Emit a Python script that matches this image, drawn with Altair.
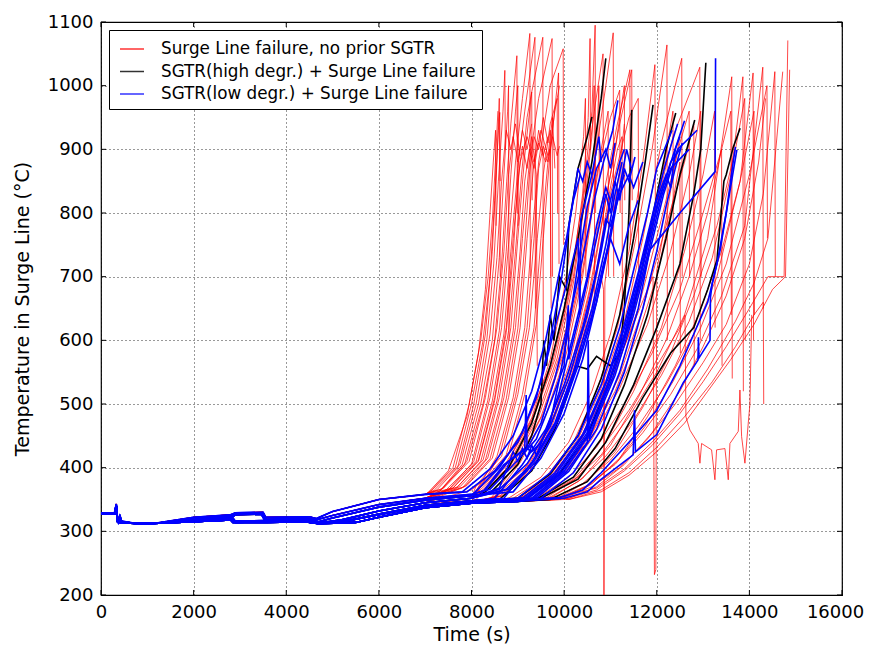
import altair as alt
import pandas as pd

X_TICKS = [0, 2000, 4000, 6000, 8000, 10000, 12000, 14000, 16000]
Y_TICKS = [200, 300, 400, 500, 600, 700, 800, 900, 1000, 1100]
SERIES = ["Surge Line failure, no prior SGTR",
          "SGTR(high degr.) + Surge Line failure",
          "SGTR(low degr.) + Surge Line failure"]
COLORS = ["#ff0000", "#000000", "#0000ff"]

BASE_A = [(0, 329), (290, 329), (330, 343), (350, 318), (370, 314), (400, 324), (440, 316), (700, 313), (1200, 313),
          (2000, 322), (2800, 326), (2900, 329), (3500, 330), (3560, 322), (4500, 323), (4650, 320), (5000, 331),
          (6000, 350), (7000, 358), (8000, 362)]
BASE_B = [(0, 328), (290, 328), (330, 341), (350, 317), (380, 314), (410, 322), (450, 315), (800, 312), (1300, 313),
          (2000, 319), (2800, 323), (2900, 327), (3450, 328), (3520, 319), (4400, 321), (4650, 318), (5000, 325),
          (6000, 342), (7000, 352), (8000, 358), (9000, 362)]
BASE_C = [(0, 327), (290, 327), (330, 340), (360, 316), (450, 314), (1000, 312), (2000, 316), (2800, 320),
          (2900, 315), (3600, 316), (4500, 316), (4700, 313), (5200, 318), (6000, 332), (7000, 345), (8000, 352),
          (9000, 356), (10000, 362)]
BASE_D = [(0, 327), (290, 327), (330, 339), (360, 315), (450, 313), (1000, 312), (2000, 315), (2800, 318),
          (2850, 314), (3600, 314), (4400, 315), (4700, 312), (5500, 314), (6000, 322), (7000, 337), (8000, 344),
          (9000, 347), (10000, 352), (10500, 358)]
BASE_E = [(0, 328), (290, 328), (330, 342), (355, 317), (380, 315), (415, 323), (450, 315), (750, 312), (1250, 313),
          (2000, 321), (2800, 325), (2900, 316), (3600, 317), (4500, 318), (4700, 315), (5000, 321), (6000, 338),
          (7000, 349), (8000, 356), (9000, 360)]
BASE_F = [(0, 327), (290, 327), (330, 340), (360, 316), (450, 314), (1000, 312), (2000, 317), (2800, 321),
          (2900, 326), (3500, 327), (3560, 318), (4500, 318), (4700, 314), (5300, 316), (6000, 327), (7000, 341),
          (8000, 348), (9000, 352), (10000, 358)]
BASE_G = [(0, 327), (290, 327), (330, 339), (360, 315), (450, 313), (1000, 312), (2000, 315), (2800, 318),
          (2900, 314), (3600, 315), (4500, 315), (4800, 313), (5500, 319), (6000, 326), (7000, 340), (8000, 346),
          (9000, 350), (10000, 355), (10500, 360)]
BASES = {"A": BASE_A, "B": BASE_B, "C": BASE_C, "D": BASE_D, "E": BASE_E, "F": BASE_F, "G": BASE_G}

RED = [
    ("A", [(7100, 362), (7600, 400), (7950, 500), (8200, 600), (8360, 700), (8460, 800), (8530, 900), (8570, 960)]),
    ("A", [(7150, 365), (7650, 400), (8000, 500), (8250, 600), (8400, 700), (8500, 820), (8580, 930), (8610, 958), (8620, 850)]),
    ("A", [(7200, 365), (7750, 405), (8100, 500), (8330, 600), (8480, 720), (8580, 850), (8680, 960), (8720, 1024), (8730, 900)]),
    ("E", [(7300, 362), (7800, 405), (8150, 500), (8400, 610), (8550, 730), (8650, 850), (8750, 930), (8850, 900), (8950, 940), (9050, 890)]),
    ("B", [(7350, 365), (7900, 410), (8250, 500), (8500, 600), (8650, 720), (8760, 850), (8850, 940), (8980, 1047), (8990, 800)]),
    ("A", [(7400, 368), (7950, 410), (8300, 510), (8550, 620), (8700, 740), (8800, 860), (8900, 920), (9000, 880), (9100, 930), (9200, 900), (9300, 940)]),
    ("E", [(7500, 365), (8050, 410), (8400, 510), (8650, 620), (8800, 750), (8950, 880), (9100, 980), (9260, 1082), (9270, 700)]),
    ("B", [(7550, 368), (8100, 410), (8450, 505), (8700, 610), (8850, 740), (9000, 870), (9150, 960), (9370, 1076), (9380, 650)]),
    ("A", [(7600, 368), (8150, 412), (8500, 510), (8750, 620), (8900, 760), (9050, 880), (9200, 920), (9350, 880), (9450, 930), (9550, 890), (9650, 920)]),
    ("B", [(7700, 370), (8250, 412), (8600, 510), (8850, 620), (9000, 760), (9150, 890), (9300, 990), (9540, 1076), (9550, 600)]),
    ("E", [(7800, 368), (8350, 415), (8700, 510), (8950, 620), (9100, 760), (9250, 880), (9450, 980), (9740, 1074), (9750, 700)]),
    ("C", [(7900, 372), (8450, 415), (8800, 510), (9050, 620), (9200, 760), (9350, 880), (9500, 930), (9650, 890), (9750, 950), (9800, 870)]),
    ("F", [(8000, 352), (8550, 418), (8900, 510), (9150, 620), (9300, 760), (9450, 880), (9700, 1000), (9980, 1058), (9990, 750)]),
    ("A", [(7250, 365), (7700, 400), (8050, 500), (8300, 610), (8450, 740), (8550, 880), (8600, 980), (8620, 700)]),
    ("B", [(7450, 365), (8000, 405), (8350, 505), (8600, 615), (8750, 740), (8850, 860), (8950, 960), (9000, 1000), (9010, 780)]),
    ("E", [(7650, 366), (8200, 410), (8550, 505), (8800, 615), (8950, 740), (9080, 860), (9200, 950), (9300, 990), (9310, 820)]),
    ("C", [(8100, 372), (8650, 418), (9000, 515), (9250, 620), (9420, 760), (9550, 860), (9700, 940), (9850, 980), (9860, 800)]),
    ("C", [(8200, 374), (8750, 420), (9100, 515), (9350, 620), (9500, 760), (9650, 880), (9800, 960), (9900, 1000)]),
    ("B", [(7750, 370), (8300, 412), (8650, 505), (8900, 615), (9050, 740), (9150, 850), (9250, 900), (9350, 870), (9450, 910), (9600, 880), (9700, 900), (9720, 650)]),
    ("A", [(7350, 366), (7850, 405), (8200, 500), (8450, 600), (8600, 730), (8700, 860), (8780, 960), (8800, 1000), (8810, 600)]),
    ("B", [(7850, 370), (8400, 414), (8750, 508), (9000, 618), (9150, 750), (9250, 860), (9350, 920), (9450, 900), (9550, 950), (9650, 910), (9700, 930), (9710, 700)]),
    ("F", [(8050, 352), (8600, 418), (8950, 512), (9200, 620), (9350, 760), (9450, 870), (9550, 905), (9650, 880), (9750, 920), (9850, 890), (9900, 905)]),
    ("C", [(8250, 374), (8800, 420), (9150, 515), (9400, 625), (9550, 760), (9680, 880), (9780, 950), (9880, 1020), (9890, 720)]),
    ("A", [(7050, 360), (7500, 395), (7900, 480), (8150, 580), (8300, 680), (8400, 800), (8470, 880), (8520, 930), (8530, 780)]),
    ("B", [(7600, 368), (8150, 410), (8500, 505), (8750, 612), (8900, 735), (9000, 850), (9100, 905), (9200, 870), (9300, 920), (9400, 860), (9420, 560)]),
    ("C", [(8000, 365), (8600, 400), (9200, 470), (9700, 560), (10100, 680), (10400, 820), (10600, 960), (10670, 1095), (10680, 800)]),
    ("F", [(8100, 350), (8700, 402), (9300, 475), (9750, 565), (10150, 690), (10400, 830), (10520, 950), (10560, 1074), (10570, 900)]),
    ("C", [(8200, 366), (8800, 405), (9350, 480), (9800, 570), (10200, 700), (10450, 840), (10650, 960), (10840, 1050), (10850, 780)]),
    ("C", [(8300, 366), (8900, 405), (9450, 480), (9900, 575), (10300, 700), (10600, 850), (10900, 1000), (11060, 1083), (11070, 700)]),
    ("F", [(8400, 350), (9000, 408), (9550, 485), (10000, 580), (10400, 710), (10700, 860), (11000, 950), (11200, 993), (11210, 800)]),
    ("D", [(8500, 355), (9100, 392), (9650, 465), (10100, 560), (10500, 680), (10800, 810), (11150, 940), (11420, 1025), (11430, 750)]),
    ("G", [(8600, 355), (9200, 393), (9750, 468), (10200, 565), (10600, 690), (10900, 820), (11200, 940), (11460, 1025), (11470, 820)]),
    ("D", [(8700, 356), (9300, 395), (9850, 470), (10300, 570), (10700, 700), (11000, 830), (11400, 950), (11600, 980), (11610, 700)]),
    ("C", [(8350, 366), (8950, 405), (9500, 480), (9950, 575), (10350, 700), (10550, 820), (10700, 900), (10750, 1000), (10760, 850)]),
    ("C", [(8150, 366), (8750, 404), (9300, 478), (9700, 570), (10000, 680), (10250, 800), (10420, 920), (10460, 980), (10470, 700)]),
    ("F", [(8450, 350), (9050, 408), (9600, 482), (10050, 580), (10400, 700), (10600, 800), (10800, 900), (10950, 960), (10960, 700)]),
    ("D", [(8550, 355), (9150, 392), (9700, 465), (10150, 560), (10550, 680), (10850, 800), (11100, 900), (11300, 1000), (11310, 820)]),
    ("G", [(8650, 356), (9250, 394), (9800, 468), (10250, 565), (10650, 690), (10950, 820), (11150, 900), (11250, 920), (11260, 600)]),
    ("C", [(8250, 366), (8850, 404), (9400, 478), (9850, 572), (10200, 690), (10450, 820), (10600, 920), (10650, 1000), (10660, 650)]),
    ("D", [(8800, 352), (9500, 385), (10100, 440), (10600, 520), (11000, 610), (11400, 740), (11700, 880), (11960, 1033), (11970, 800)]),
    ("G", [(8900, 352), (9600, 385), (10200, 440), (10700, 520), (11150, 620), (11550, 760), (11900, 900), (12220, 1064), (12230, 600)]),
    ("D", [(9000, 352), (9700, 388), (10300, 445), (10800, 525), (11300, 630), (11700, 760), (12100, 910), (12540, 1043), (12550, 700)]),
    ("D", [(9100, 352), (9800, 390), (10400, 448), (10950, 535), (11450, 640), (11900, 780), (12350, 920), (12930, 1029), (12940, 600)]),
    ("G", [(9200, 352), (9900, 390), (10500, 450), (11050, 540), (11600, 650), (12100, 790), (12500, 910), (12700, 960), (12710, 700)]),
    ("D", [(9000, 350), (9800, 382), (10500, 440), (11100, 520), (11600, 610), (12000, 700), (12300, 800), (12500, 880), (12510, 580)]),
    ("D", [(9300, 352), (10000, 392), (10600, 455), (11200, 545), (11700, 650), (12200, 780), (12600, 880), (12800, 940), (12810, 560)]),
    ("G", [(9050, 352), (9750, 386), (10350, 442), (10900, 520), (11400, 620), (11800, 730), (12100, 850), (12350, 960), (12360, 700)]),
    ("D", [(9300, 352), (10000, 388), (10600, 445), (11200, 525), (11800, 625), (12300, 740), (12700, 860), (12950, 960), (12960, 700)]),
    ("D", [(9600, 352), (10300, 385), (10900, 440), (11500, 520), (12100, 620), (12600, 740), (13000, 860), (13250, 960), (13260, 620)]),
    ("G", [(9700, 352), (10400, 383), (11000, 435), (11600, 510), (12200, 600), (12700, 700), (13100, 800), (13400, 900), (13410, 560)]),
    ("D", [(9400, 352), (10100, 385), (10700, 432), (11300, 500), (11900, 580), (12500, 680), (13000, 800), (13400, 900), (13600, 960), (13610, 640)]),
    ("D", [(9500, 352), (10200, 380), (10800, 420), (11400, 480), (12000, 550), (12600, 640), (13100, 760), (13620, 1014), (13630, 540)]),
    ("G", [(9600, 350), (10300, 378), (10900, 418), (11500, 475), (12100, 545), (12700, 630), (13200, 730), (13600, 860), (13860, 1014), (13870, 520)]),
    ("D", [(9800, 350), (10500, 378), (11100, 425), (11700, 495), (12300, 580), (12800, 670), (13300, 780), (13700, 900), (13900, 980), (13910, 600)]),
    ("D", [(9700, 350), (10400, 375), (11000, 412), (11600, 465), (12200, 530), (12800, 610), (13300, 700), (13800, 850), (14080, 1020), (14090, 600)]),
    ("G", [(9900, 350), (10600, 375), (11200, 415), (11800, 480), (12400, 560), (12900, 640), (13400, 740), (13800, 850), (14100, 960), (14110, 640)]),
    ("D", [(9800, 350), (10500, 372), (11100, 405), (11700, 455), (12300, 515), (12900, 590), (13400, 670), (13900, 780), (14290, 1029), (14300, 650)]),
    ("D", [(10050, 350), (10700, 370), (11300, 405), (11900, 455), (12500, 520), (13000, 590), (13500, 670), (13900, 760), (14200, 880), (14350, 980)]),
    ("G", [(9850, 350), (10550, 372), (11150, 410), (11750, 465), (12350, 535), (12950, 620), (13500, 720), (14000, 860), (14380, 1000), (14390, 760)]),
    ("D", [(9900, 350), (10600, 370), (11200, 400), (11800, 445), (12400, 500), (13000, 565), (13500, 625), (14000, 720), (14300, 830), (14550, 1022), (14560, 700)]),
    ("D", [(10000, 350), (10700, 365), (11300, 395), (11900, 435), (12500, 485), (13000, 535), (13500, 590), (14000, 650), (14400, 700), (14750, 700), (14830, 1071)]),
    ("D", [(10100, 350), (10800, 362), (11400, 388), (12000, 425), (12600, 470), (13100, 520), (13600, 570), (14100, 625), (14500, 680), (14780, 700), (14870, 1025)]),
    ("G", [(10000, 355), (10700, 368), (11300, 398), (11900, 440), (12500, 490), (13100, 555), (13700, 630), (14100, 690), (14400, 760), (14720, 1022)]),
    ("D", [(10100, 350), (10800, 365), (11400, 392), (12000, 432), (12600, 480), (13200, 535), (13700, 590), (14100, 640), (14300, 660), (14310, 500)]),
    ("C", [(8600, 366), (9200, 402), (9700, 470), (10100, 540), (10500, 620), (10800, 700), (10850, 680), (10860, 200), (10880, 690), (11000, 760), (11200, 870), (11300, 940)]),
    ("D", [(9000, 352), (9700, 385), (10300, 440), (10800, 510), (11300, 590), (11800, 680), (11920, 700), (11950, 232), (11980, 240), (12000, 710), (12200, 790), (12400, 880), (12500, 920)]),
    ("D", [(9500, 352), (10200, 382), (10800, 430), (11400, 490), (12000, 560), (12500, 620), (12610, 640), (12630, 480), (12716, 459), (12896, 438), (12932, 407), (12968, 438), (13184, 428), (13256, 381), (13292, 428), (13472, 430), (13544, 381), (13580, 438), (13760, 457), (13796, 522), (13832, 449), (13904, 407), (13976, 470), (14012, 500), (14050, 640)]),
]

BLACK = [
    ("C", [(8300, 362), (8800, 400), (9300, 470), (9700, 560), (10000, 650), (10300, 760), (10600, 880), (10800, 980), (10900, 1043)]),
    ("E", [(8400, 360), (9000, 405), (9300, 450), (9500, 500), (9560, 600), (9620, 560), (9700, 640), (9780, 600), (9900, 700), (10050, 680), (10100, 780), (10300, 870), (10500, 920), (10600, 951)]),
    ("F", [(8600, 350), (9300, 395), (9800, 460), (10100, 520), (10250, 560), (10500, 555), (10700, 575), (11000, 560), (11200, 580), (11300, 650), (11400, 800), (11460, 962)]),
    ("D", [(9000, 352), (9700, 390), (10300, 450), (10800, 540), (11200, 640), (11500, 760), (11750, 880), (11920, 970)]),
    ("G", [(9200, 352), (9900, 390), (10500, 450), (11000, 540), (11500, 650), (11900, 790), (12200, 900), (12410, 957)]),
    ("D", [(9400, 350), (10200, 385), (10800, 445), (11300, 530), (11800, 640), (12200, 760), (12500, 860), (12820, 946)]),
    ("F", [(9500, 352), (10300, 382), (10900, 440), (11500, 530), (12000, 620), (12500, 720), (12800, 830), (12950, 900), (13060, 1036)]),
    ("D", [(9700, 350), (10500, 378), (11100, 430), (11700, 510), (12300, 580), (12800, 620), (13100, 680), (13300, 726), (13450, 850), (13500, 860), (13650, 903), (13800, 933)]),
]

BLUE = [
    ("A", [(7900, 362), (8500, 395), (9000, 440), (9400, 510), (9700, 600), (9950, 700), (10150, 800), (10300, 870), (10400, 850), (10500, 880), (10600, 860)]),
    ("E", [(8000, 356), (8600, 400), (9100, 455), (9500, 535), (9800, 620), (10100, 700), (10300, 760), (10340, 640), (10360, 790), (10600, 860), (10750, 920), (10800, 880)]),
    ("E", [(8200, 358), (8700, 405), (9000, 420), (9200, 430), (9300, 425), (9500, 440), (9700, 470), (9900, 540), (10100, 620), (10300, 720), (10500, 810), (10700, 870), (10900, 900), (11000, 870), (11100, 910)]),
    ("B", [(8300, 365), (8800, 410), (9150, 430), (9180, 514), (9200, 430), (9500, 470), (9800, 540), (10100, 630), (10400, 730), (10650, 820), (10850, 880), (11050, 930), (11160, 977)]),
    ("B", [(8400, 366), (9000, 412), (9400, 445), (9700, 500), (10000, 560), (10090, 655), (10100, 570), (10400, 660), (10700, 760), (10900, 830), (11000, 800), (11100, 850), (11200, 820), (11300, 870), (11400, 850), (11530, 888)]),
    ("F", [(8500, 352), (9100, 405), (9600, 460), (10000, 530), (10400, 620), (10700, 710), (10900, 790), (11000, 780), (11200, 830), (11400, 860), (11500, 840), (11700, 880)]),
    ("C", [(8600, 366), (9200, 406), (9700, 465), (10100, 540), (10500, 640), (10800, 740), (11000, 820), (11200, 880), (11300, 900)]),
    ("F", [(8700, 352), (9300, 408), (9800, 470), (10200, 550), (10600, 650), (10900, 750), (11100, 830), (11250, 880)]),
    ("C", [(8800, 366), (9400, 410), (9900, 478), (10300, 560), (10700, 660), (11000, 760), (11200, 840), (11350, 900), (11450, 870)]),
    ("D", [(9000, 352), (9700, 392), (10300, 450), (10800, 530), (11200, 620), (11500, 710), (11800, 800), (12000, 870), (12330, 930)]),
    ("G", [(9100, 352), (9800, 392), (10400, 452), (10900, 535), (11300, 625), (11650, 720), (11950, 810), (12200, 880), (12450, 940)]),
    ("D", [(9200, 352), (9900, 393), (10500, 455), (11000, 540), (11400, 630), (11750, 730), (12050, 820), (12350, 890), (12600, 945)]),
    ("G", [(9300, 352), (10000, 394), (10600, 458), (11100, 545), (11500, 640), (11850, 740), (12150, 830), (12450, 900), (12870, 930)]),
    ("D", [(9150, 352), (9850, 392), (10450, 455), (10950, 540), (11350, 630), (11700, 730), (12000, 820), (12200, 860), (12300, 840), (12400, 900), (12500, 920)]),
    ("F", [(9250, 353), (9950, 393), (10550, 456), (11050, 542), (11450, 635), (11800, 735), (12100, 825), (12300, 870), (12700, 900)]),
    ("D", [(9400, 352), (10100, 394), (10700, 460), (11200, 550), (11600, 650), (11850, 742), (12500, 800), (13260, 865), (13270, 1043)]),
    ("D", [(9350, 352), (10050, 394), (10500, 440), (10520, 600), (10540, 445), (10900, 520), (11300, 610), (11700, 720), (12000, 810), (12300, 880), (12500, 900)]),
    ("D", [(10000, 352), (10500, 362), (10770, 380), (11490, 420), (11520, 490), (11540, 425), (12000, 452), (12570, 533), (12890, 569), (12900, 605), (12910, 572), (13150, 600), (13160, 668), (13200, 690), (13370, 742), (13500, 800), (13730, 899)]),
    ("G", [(9900, 353), (10400, 365), (10800, 392), (11400, 440), (12000, 490), (12500, 560), (12800, 610), (13100, 660), (13300, 720), (13500, 800), (13650, 880), (13700, 904)]),
    ("C", [(8600, 368), (8800, 405), (8900, 425), (9000, 410), (9100, 430), (9200, 415), (9300, 435), (9400, 420), (9600, 455), (9900, 520), (10200, 610), (10500, 700), (10700, 780), (10900, 840), (11000, 820)]),
    ("E", [(8900, 362), (9500, 415), (10000, 485), (10400, 570), (10700, 660), (10950, 750), (11150, 830), (11300, 860)]),
    ("C", [(8750, 366), (9350, 410), (9850, 475), (10250, 555), (10600, 640), (10850, 720), (11000, 760), (11200, 720), (11400, 780), (11600, 820)]),
    ("G", [(9500, 352), (10200, 392), (10800, 460), (11300, 550), (11700, 650), (12000, 740), (12200, 810), (12400, 870), (12550, 910)]),
    ("A", [(7800, 362), (8400, 398), (8900, 450), (9300, 520), (9600, 600), (9850, 690), (10050, 760), (10200, 820), (10350, 860)]),
]


def build(curves, label, prefix):
    rows = []
    for i, (b, tail) in enumerate(curves):
        pts = [p for p in BASES[b] if p[0] < tail[0][0]] + tail
        for k, (t, temp) in enumerate(pts):
            rows.append({"series": label, "cid": f"{prefix}{i}", "k": k, "t": t, "T": temp})
    return pd.DataFrame(rows)


df_red = build(RED, SERIES[0], "r")
df_black = build(BLACK, SERIES[1], "k")
df_blue = build(BLUE, SERIES[2], "b")

W, H = 741, 573
FONT = "DejaVu Sans"

xscale = alt.Scale(domain=[0, 16000], nice=False, zero=False)
yscale = alt.Scale(domain=[200, 1100], nice=False, zero=False)
cscale = alt.Scale(domain=SERIES, range=COLORS)
legend = alt.Legend(title=None, orient="none", legendX=8, legendY=8, direction="vertical",
                    symbolType="stroke", symbolSize=576, symbolStrokeWidth=1.5, symbolOffset=4,
                    labelFont=FONT, labelFontSize=16.8, labelColor="black", labelOffset=16,
                    rowPadding=0.5, padding=6, strokeColor="black", fillColor="white",
                    cornerRadius=0, labelLimit=500)

last_x_shift = {"condition": {"test": "datum.value == 16000", "value": -7}, "value": 0}


def lines(df, width, opacity):
    return alt.Chart(df).mark_line(strokeWidth=width, opacity=opacity, clip=True).encode(
        x=alt.X("t:Q", scale=xscale,
                axis=alt.Axis(values=X_TICKS, format="d", title="Time (s)", labelOffset=last_x_shift)),
        y=alt.Y("T:Q", scale=yscale,
                axis=alt.Axis(values=Y_TICKS, format="d", title="Temperature in Surge Line (°C)")),
        color=alt.Color("series:N", scale=cscale, legend=legend),
        detail="cid:N",
        order="k:Q",
    )


xt = pd.DataFrame({"v": X_TICKS})
yt = pd.DataFrame({"v": Y_TICKS})
tick_b = alt.Chart(xt).mark_rule(color="black").encode(x=alt.X("v:Q", scale=xscale), y=alt.value(H), y2=alt.value(H - 5))
tick_t = alt.Chart(xt).mark_rule(color="black").encode(x=alt.X("v:Q", scale=xscale), y=alt.value(0), y2=alt.value(5))
tick_l = alt.Chart(yt).mark_rule(color="black").encode(y=alt.Y("v:Q", scale=yscale), x=alt.value(0), x2=alt.value(5))
tick_r = alt.Chart(yt).mark_rule(color="black").encode(y=alt.Y("v:Q", scale=yscale), x=alt.value(W), x2=alt.value(W - 5))

chart = alt.layer(
    lines(df_red, 0.9, 0.8),
    lines(df_black, 1.6, 1.0),
    lines(df_blue, 1.6, 1.0),
    tick_b, tick_t, tick_l, tick_r,
).properties(
    width=W, height=H,
    autosize=alt.AutoSizeParams(type="none"),
    padding={"left": 93, "top": 14, "right": 25, "bottom": 50},
).configure_view(
    stroke="black", strokeWidth=1.2
).configure_axis(
    labelFont=FONT, labelFontSize=18, labelColor="black", labelPadding=8, labelFlush=False,
    labelOverlap=False,
    titleFont=FONT, titleFontSize=19, titleFontWeight="normal", titleColor="black",
    tickSize=0, domain=False, grid=True, gridColor="black", gridDash=[1, 3], gridOpacity=0.8, gridWidth=1,
).configure_axisX(titlePadding=4).configure_axisY(titlePadding=15)

chart.save("out.html", embed_options={"renderer": "svg", "actions": False})
